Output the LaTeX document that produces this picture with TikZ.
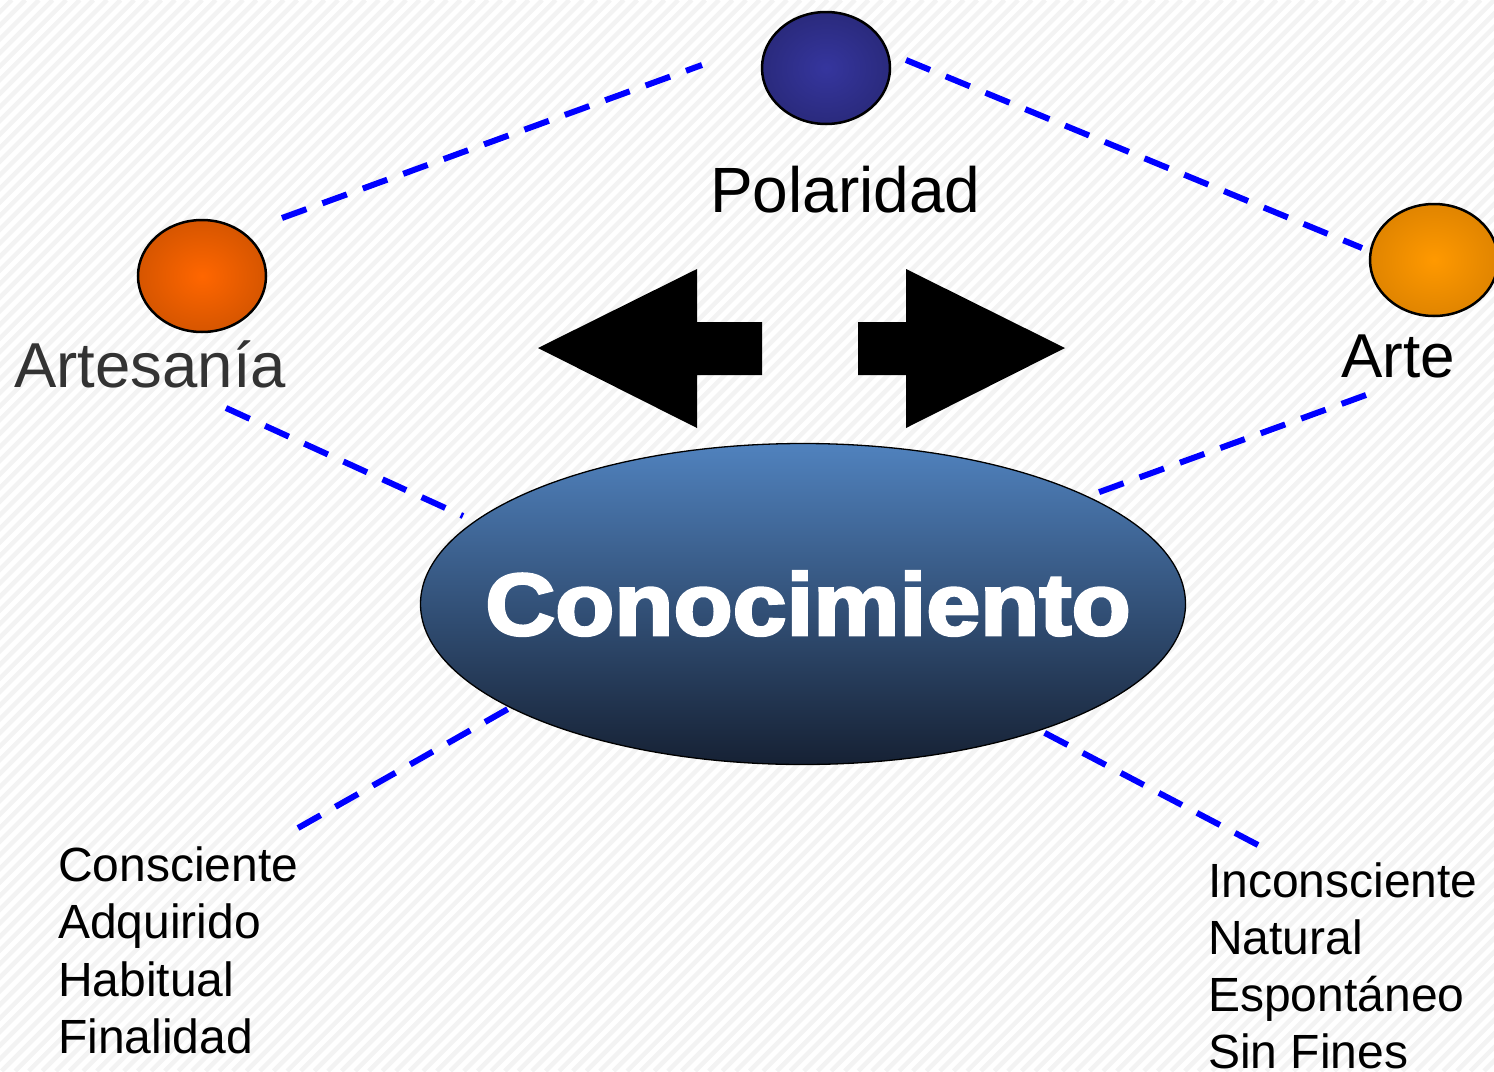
\documentclass[tikz,border=0pt]{standalone}
\usepackage{fontspec}
\setmainfont{Liberation Sans}
\newfontfamily\heavyfont[FakeBold=3]{Liberation Sans Bold}
\usetikzlibrary{shapes.geometric}
\definecolor{artgray}{RGB}{51,51,51}
\definecolor{stripe}{RGB}{243,243,243}
\definecolor{elltop}{RGB}{80,130,190}
\definecolor{ellmid}{RGB}{58,96,144}
\definecolor{ellbot}{RGB}{22,33,52}
\pgfdeclareradialshading{ballorange}{\pgfpoint{0bp}{0bp}}{rgb(0bp)=(1,0.40,0); rgb(50bp)=(0.68,0.27,0)}
\pgfdeclareradialshading{ballblue}{\pgfpoint{0bp}{0bp}}{rgb(0bp)=(0.21,0.21,0.62); rgb(50bp)=(0.12,0.12,0.36)}
\pgfdeclareradialshading{ballgold}{\pgfpoint{0bp}{0bp}}{rgb(0bp)=(1,0.60,0); rgb(50bp)=(0.76,0.44,0)}
\begin{document}
\begin{tikzpicture}[x=1pt,y=-1pt,
  ball/.style={ellipse, draw=black, line width=2.5pt, minimum width=128pt, minimum height=112pt, inner sep=0pt},
  dashline/.style={draw={rgb,255:red,0;green,0;blue,255}, line width=6pt, dash pattern=on 26pt off 17pt},
  biglabel/.style={anchor=base west, inner sep=0pt, font=\fontsize{64}{77}\selectfont},
  listitem/.style={anchor=base west, inner sep=0pt, font=\fontsize{48}{57}\selectfont},
  bigarrow/.style={fill=black}
]
\useasboundingbox (0,0) rectangle (1494,1071);
\fill[white] (0,0) rectangle (1494,1071);
\begin{scope}
  \clip (0,0) rectangle (1494,1071);
  \foreach \i in {-1100,-1086.4,...,1500} {
    \draw[stripe, line width=4.5pt] (\i,1071) -- (\i+1071,0);
  }
\end{scope}

% connector ends
\coordinate (l1a) at (282,218);
\coordinate (l1b) at (702,65);
\coordinate (l2a) at (906,60);
\coordinate (l2b) at (1362,248);
\coordinate (l3a) at (226,408);
\coordinate (l3b) at (463,516);
\coordinate (l4a) at (1366,395);
\coordinate (l4b) at (1050,510);
\coordinate (l5a) at (298,828);
\coordinate (l5b) at (545,688);
\coordinate (l6a) at (1258,845);
\coordinate (l6b) at (1005,712);

\draw[dashline] (l1a) -- (l1b);
\draw[dashline] (l2a) -- (l2b);
\draw[dashline] (l3a) -- (l3b);
\draw[dashline] (l4a) -- (l4b);
\draw[dashline] (l5a) -- (l5b);
\draw[dashline] (l6a) -- (l6b);

% spheres
\node[ball, shading=ballorange] (artS) at (202,276) {};
\node[ball, shading=ballblue] (polS) at (826,68) {};
\node[ball, shading=ballgold] (arteS) at (1434,260) {};

% labels
\node[biglabel] (polT) at (710,212) {Polaridad};
\node[biglabel, text=artgray, font=\fontsize{63.5}{76}\selectfont] (artT) at (14,387) {Artesanía};
\node[biglabel, font=\fontsize{62}{75}\selectfont] (arteT) at (1341,377) {Arte};

% arrows
\fill[bigarrow] (538,348) -- (697,269) -- (697,322) -- (762,322) -- (762,375) -- (697,375) -- (697,428) -- cycle;
\fill[bigarrow] (1065,348) -- (906,269) -- (906,322) -- (858,322) -- (858,375) -- (906,375) -- (906,428) -- cycle;

% central ellipse
\node[ellipse, draw=black, line width=1.3pt, minimum width=765pt, minimum height=321pt, inner sep=0pt,
      top color=elltop, middle color=ellmid, bottom color=ellbot] (conc) at (803,604) {};
\node[anchor=base, inner sep=0pt, text=white, font=\heavyfont\fontsize{88}{100}\selectfont] (concT) at (808,635) {\scalebox{1.1}[1]{Conocimiento}};

% lists
\node[listitem] (c1) at (58,881) {Consciente};
\node[listitem] (c2) at (58,938) {Adquirido};
\node[listitem] (c3) at (58,996) {Habitual};
\node[listitem] (c4) at (58,1053) {Finalidad};
\node[listitem] (i1) at (1208,897) {Inconsciente};
\node[listitem] (i2) at (1208,954) {Natural};
\node[listitem] (i3) at (1208,1011) {Espontáneo};
\node[listitem] (i4) at (1208,1068) {Sin Fines};
\end{tikzpicture}
\end{document}
